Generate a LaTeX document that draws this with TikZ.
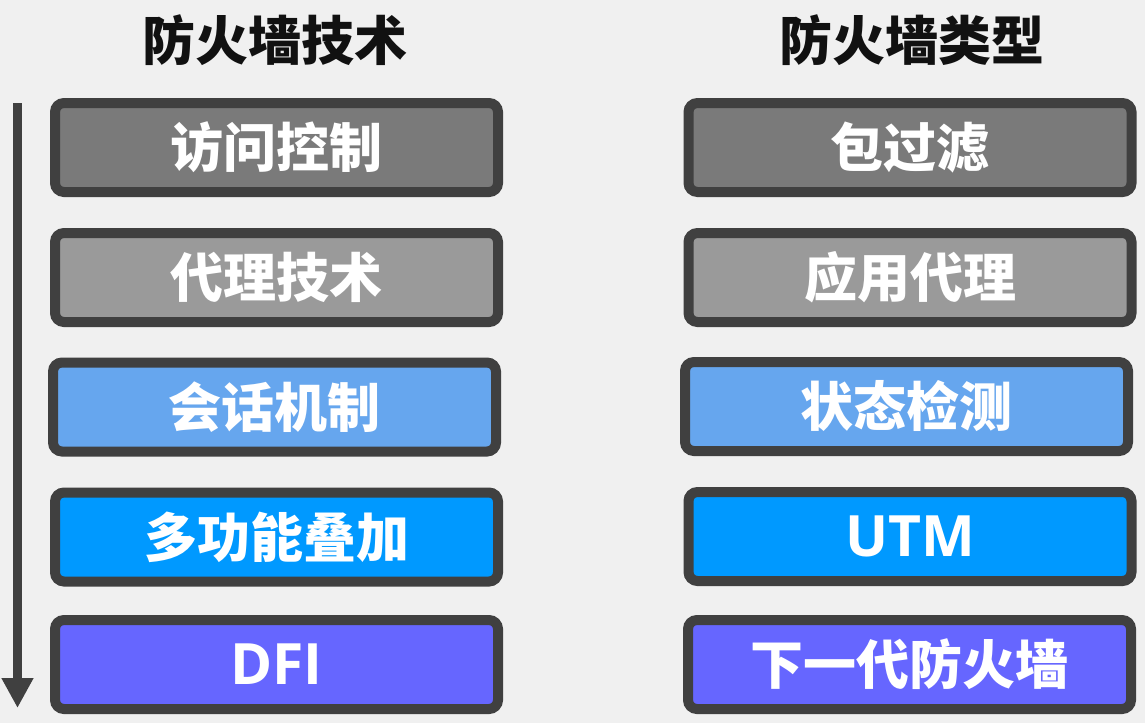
\documentclass[tikz,border=0pt]{standalone}
\usepackage{fontspec}
\setmainfont{Noto Sans CJK SC}
\newfontfamily\latinfont{Open Sans}
\usetikzlibrary{arrows.meta}
\definecolor{bg}{HTML}{F0F0F0}
\definecolor{edge}{HTML}{404040}
\definecolor{cA}{HTML}{7A7A7A}
\definecolor{cB}{HTML}{9A9A9A}
\definecolor{cC}{HTML}{66A6EE}
\definecolor{cD}{HTML}{0099FF}
\definecolor{cE}{HTML}{6666FF}
\definecolor{ttl}{HTML}{111111}
\tikzset{
  card/.style={draw=edge, line width=10pt, rounded corners=9pt,
    minimum width=443pt, minimum height=89pt, inner sep=0pt,
    text=white, font=\fontsize{53}{60}\selectfont\bfseries},
  latin/.style={font=\latinfont\fontsize{57}{64}\selectfont\bfseries},
  heading/.style={text=ttl, inner sep=0pt, font=\fontsize{53}{60}\selectfont\bfseries},
  timeline/.style={draw=edge, line width=9pt, -{Triangle[width=30pt,length=30pt]}}
}
\begin{document}
\begin{tikzpicture}[x=1pt,y=-1pt]
\fill[bg] (0,0) rectangle (1145,723);
\useasboundingbox (0,0) rectangle (1145,723);
\node[heading] (t1) at (275,40) {防火墙技术};
\node[heading] (t2) at (912,40) {防火墙类型};
\node[card, fill=cA] (l1) at (276.5,147.5) {访问控制};
\node[card, fill=cB] (l2) at (276.5,277.5) {代理技术};
\node[card, fill=cC] (l3) at (274.5,407) {会话机制};
\node[card, fill=cD] (l4) at (276.5,537) {多功能叠加};
\node[card, latin, fill=cE] (l5) at (276.5,664.5) {DFI};
\node[card, fill=cA] (r1) at (910,147.5) {包过滤};
\node[card, fill=cB] (r2) at (910,277.5) {应用代理};
\node[card, fill=cC] (r3) at (906.5,406.5) {状态检测};
\node[card, latin, fill=cD] (r4) at (910,536.5) {UTM};
\node[card, fill=cE] (r5) at (909.5,664.5) {下一代防火墙};
\coordinate (a0) at (17.5,103);
\coordinate (a1) at (17.5,708);
\draw[timeline] (a0) -- (a1);
\end{tikzpicture}
\end{document}
